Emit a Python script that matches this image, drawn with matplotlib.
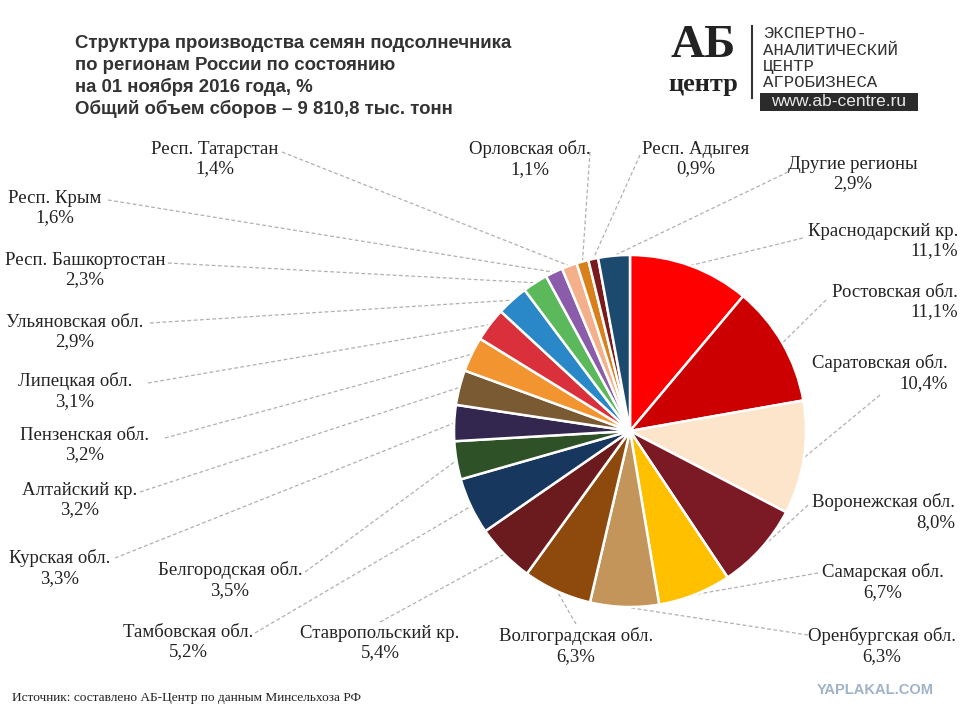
import numpy as np
import matplotlib
matplotlib.use("Agg")
import matplotlib.pyplot as plt
from matplotlib.patches import Rectangle

W, H = 960, 720

regions = [
    "Краснодарский кр.", "Ростовская обл.", "Саратовская обл.", "Воронежская обл.",
    "Самарская обл.", "Оренбургская обл.", "Волгоградская обл.", "Ставропольский кр.",
    "Тамбовская обл.", "Белгородская обл.", "Курская обл.", "Алтайский кр.",
    "Пензенская обл.", "Липецкая обл.", "Ульяновская обл.", "Респ. Башкортостан",
    "Респ. Крым", "Респ. Татарстан", "Орловская обл.", "Респ. Адыгея", "Другие регионы",
]
shares = [11.1, 11.1, 10.4, 8.0, 6.7, 6.3, 6.3, 5.4, 5.2, 3.5, 3.3, 3.2,
          3.2, 3.1, 2.9, 2.3, 1.6, 1.4, 1.1, 0.9, 2.9]
colors = [
    "#FF0000", "#CC0000", "#FDE5CB", "#7B1A24", "#FFC000", "#C4955A", "#8E4A0C",
    "#6B1A1E", "#17375E", "#2F5128", "#33264F", "#7A5A32", "#F29530", "#D9303C",
    "#2A88C8", "#5BB85B", "#8A5CAA", "#F4B08A", "#D8801C", "#7B1A1A", "#1C4A6E",
]

# label block positions (pixels from top-left): x, y centre, alignment
label_pos = [
    (958, 241, "right"), (958, 302, "right"), (948, 373, "right"), (955, 512, "right"),
    (883, 582, "center"), (882, 646, "center"), (576, 646, "center"), (380, 643, "center"),
    (188, 642, "center"), (230, 580, "center"), (60, 568, "center"), (80, 500, "center"),
    (85, 445, "center"), (75, 391, "center"), (75, 332, "center"), (85, 270, "center"),
    (55, 208, "center"), (215, 159, "center"), (530, 159, "center"), (696, 159, "center"),
    (853, 174, "center"),
]
# where the dashed leader leaves the label
leader_start = [
    (803, 238), (826, 300), (880, 395), (808, 505), (818, 573), (808, 635), (576, 624),
    (380, 622), (255, 633), (305, 572), (115, 558), (140, 492), (165, 438), (148, 383),
    (150, 323), (168, 263), (108, 200), (282, 152), (590, 152), (640, 155), (788, 172),
]

cx, cy, r = 630, 431, 176


def fy(p):
    return H - p


fig = plt.figure(figsize=(9.6, 7.2), dpi=100)
ax = fig.add_axes([0, 0, 1, 1])

wedges, _ = ax.pie(
    shares, colors=colors, startangle=90, counterclock=False,
    center=(cx, fy(cy)), radius=r,
    wedgeprops=dict(edgecolor="white", linewidth=1.8),
)
ax.set_xlim(0, W)
ax.set_ylim(0, H)
ax.set_aspect("equal")
ax.axis("off")

serif = ["Liberation Serif", "DejaVu Serif"]
for w, name, val, (lx, ly, ha), (sx, sy) in zip(wedges, regions, shares, label_pos, leader_start):
    mid = np.deg2rad((w.theta1 + w.theta2) / 2)
    ex, ey = cx + r * np.cos(mid), fy(cy) + r * np.sin(mid)
    ax.plot([sx, ex], [fy(sy), ey], color="#B0B0B0", lw=0.9,
            linestyle=(0, (3, 2)), zorder=0)
    pct = f"{val:.1f}%".replace(".", ",")
    ax.text(lx, fy(ly), f"{name}\n{pct}", ha=ha, va="center",
            multialignment="center" if ha == "center" else "right",
            fontsize=13.5, family=serif, linespacing=1.18, color="#222222")

# title
title_lines = [
    "Структура производства семян подсолнечника",
    "по регионам России по состоянию",
    "на 01 ноября 2016 года, %",
    "Общий объем сборов – 9 810,8 тыс. тонн",
]
for i, line in enumerate(title_lines):
    ax.text(75, fy(44 + i * 21.5), line, fontsize=13.4, fontweight="bold",
            family="Liberation Sans", color="#333333", va="center", ha="left")

# logo
ax.text(703, fy(46), "АБ", fontsize=34, fontweight="bold", family=serif,
        ha="center", va="center", color="#222222")
ax.text(703, fy(84), "центр", fontsize=19, fontweight="bold", family=serif,
        ha="center", va="center", color="#222222")
ax.plot([752, 752], [fy(26), fy(98)], color="#333333", lw=1.5)
logo_lines = ["ЭКСПЕРТНО-", "АНАЛИТИЧЕСКИЙ", "ЦЕНТР", "АГРОБИЗНЕСА"]
for i, line in enumerate(logo_lines):
    ax.text(763, fy(34 + i * 16.3), line, fontsize=12.5, family="Liberation Mono",
            ha="left", va="center", color="#333333")
ax.add_patch(Rectangle((760, fy(111)), 158, 18, color="#2B2B2B", lw=0))
ax.text(839, fy(102), "www.ab-centre.ru", fontsize=12.5, family="Liberation Sans",
        ha="center", va="center", color="#E8E8E8")

# footer
ax.text(12, fy(698), "Источник: составлено АБ-Центр по данным Минсельхоза РФ",
        fontsize=9.6, family=serif, ha="left", va="center", color="#222222")
ax.text(875, fy(690), "YAPLAKAL.COM", fontsize=10.5, fontweight="bold",
        family="Liberation Sans", ha="center", va="center", color="#9FB3C8")

fig.savefig("out.png", dpi=100)
